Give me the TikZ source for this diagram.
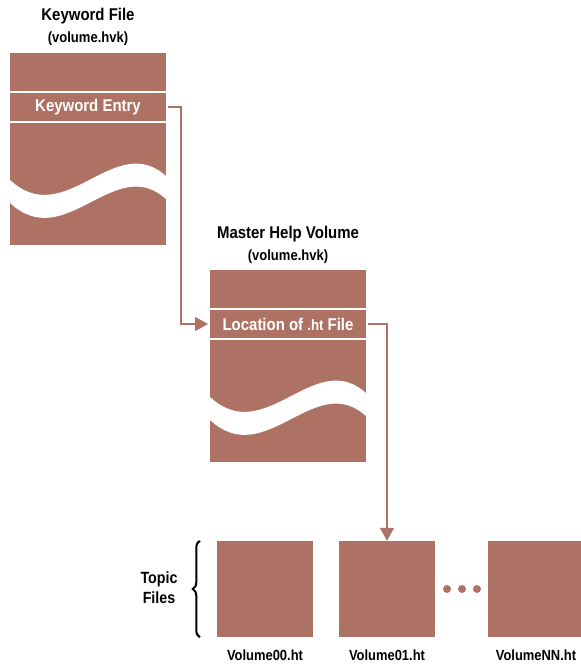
\documentclass[tikz,border=0pt]{standalone}
\usepackage{fontspec}
\setmainfont{Liberation Sans}[FakeStretch=0.88]
\usepackage{tikz}
\usetikzlibrary{arrows.meta}
\usetikzlibrary{positioning}
\usetikzlibrary{decorations.pathreplacing}

\definecolor{filebrown}{RGB}{174,114,101}

\tikzset{
	filebox/.style = {rectangle, fill=filebrown, inner sep=0, anchor=north west,
		minimum width=156, minimum height=192},
	entryband/.style = {rectangle, fill=filebrown, draw=white, line width=2pt,
		minimum width=158, minimum height=30, inner sep=0, text=white,
		font=\bfseries\fontsize{17}{20}\selectfont},
	topicbox/.style = {rectangle, fill=filebrown, inner sep=0, minimum size=96},
	wavegap/.pic = {
		\fill[white] (-1,126) .. controls (55,180) and (105,75) .. (157,124)
			-- (157,147) .. controls (105,98) and (55,203) .. (-1,149) -- cycle;
	},
}

\begin{document}
\begin{tikzpicture}[x=1pt, y=-1pt]
	\useasboundingbox (0,0) rectangle (581,664);
	% titles
	\begin{scope}[every node/.style = {anchor=base, inner sep=0,
			font = \bfseries\fontsize{17}{20}\selectfont}]
		\node (kwtitle) at (88,20) {Keyword File};
		\node[font=\bfseries\fontsize{14.8}{17}\selectfont] (kwname) at (88,42) {(volume.hvk)};
		\node (mhtitle) at (288,238) {Master Help Volume};
		\node[font=\bfseries\fontsize{14.8}{17}\selectfont] (mhname) at (288,260) {(volume.hvk)};
	\end{scope}
	% the two volume files
	\node[filebox] (kwfile) at (10,53) {};
	\pic at (kwfile.north west) {wavegap};
	\node[entryband] (kwentry) at (88,107) {Keyword Entry};
	\node[filebox] (mhfile) at (210,270) {};
	\pic at (mhfile.north west) {wavegap};
	\node[entryband] (mhentry) at (288,324) {Location of {\fontsize{15}{18}\selectfont.ht} File};
	% topic files
	\node[topicbox] (vol00) at (265,589) {};
	\node[topicbox] (vol01) at (387,589) {};
	\node[topicbox] (volNN) at (536,589) {};
	\begin{scope}[every node/.style = {inner sep=0, font = \bfseries\fontsize{14.7}{17}\selectfont}]
		\node[below=12pt of vol00] (lab00) {Volume00.ht};
		\node[below=12pt of vol01] (lab01) {Volume01.ht};
		\node[below=12pt of volNN] (labNN) {VolumeNN.ht};
		\node[align=center, font=\bfseries\fontsize{16.2}{20}\selectfont] (topic) at (159,588) {Topic\\Files};
	\end{scope}
	\foreach \x [count=\i] in {447,462,477}
		\node[circle, fill=filebrown, minimum size=8, inner sep=0] (dot\i) at (\x,589) {};
	\draw[line width=2pt, decorate, decoration={brace, amplitude=7pt}]
		([xshift=-17pt]vol00.south west) -- ([xshift=-17pt]vol00.north west);
	% links
	\begin{scope}[>={Triangle[length=13pt, width=14pt]},
			every path/.style={draw=filebrown, line width=1.2pt}]
		\draw[->] (kwentry.east) -- ++(13,0) |- (mhentry.west);
		\draw[->] (mhentry.east) -| (vol01.north);
	\end{scope}
\end{tikzpicture}
\end{document}
